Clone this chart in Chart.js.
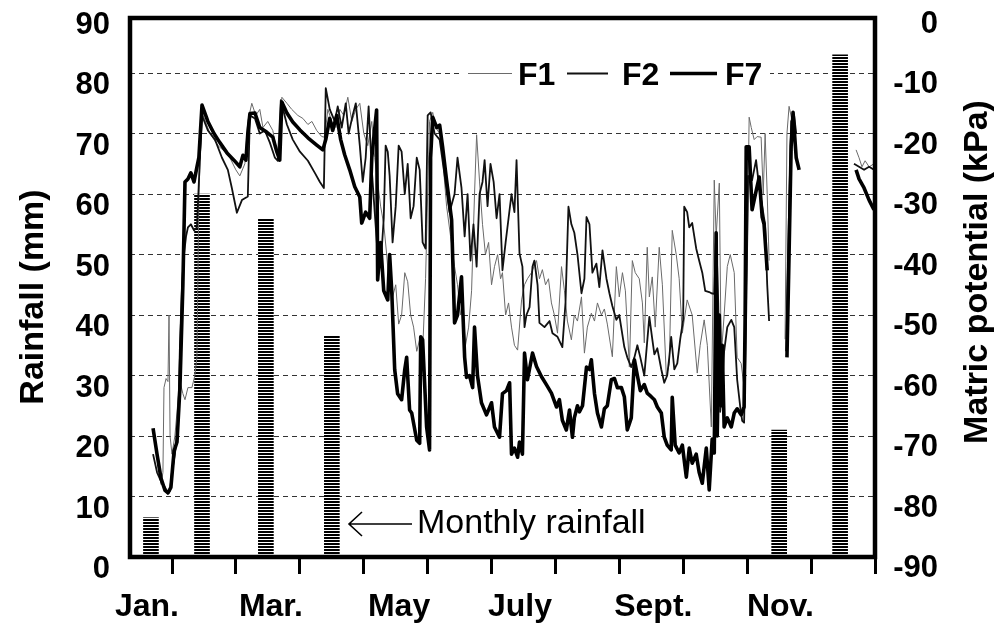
<!DOCTYPE html>
<html>
<head>
<meta charset="utf-8">
<title>Rainfall and soil matric potential</title>
<script src="https://cdn.jsdelivr.net/npm/chart.js@4.4.1/dist/chart.umd.min.js"></script>
<style>
  html, body { margin: 0; padding: 0; background: #fff; }
  canvas { display: block; }
</style>
</head>
<body>
<canvas id="chart" width="995" height="627"></canvas>
<script>
const FONT = "'Liberation Sans', Arial, Helvetica, sans-serif";

// Monthly rainfall (mm), left axis; x = day of year at the bar centre
const rainDays = [20.4, 44.7, 75.1, 106.5, 319.4, 348.4];
const rainfall = [6.5, 60, 56, 36.5, 21, 83];

// Soil matric potential (kPa), right axis; x = day of year, null = no readings
const f1Days = [
  22.3, 23.8, 25.2, 26.1, 26.6, 27.6, 28.5, 29.0, 29.5, 30.4,
  31.8, 33.3, 34.2, 35.6, 36.6, 38.0, 39.9, 41.3, 42.3, 43.2,
  44.7, 48.5, 52.3, 55.6, 58.0, 60.8, 62.7, 65.1, 66.5, 68.4,
  70.3, 72.2, 73.7, 76.0, 78.4, 80.3, 81.7, 82.7, 85.1, 87.4,
  90.3, 92.7, 95.1, 97.0, 99.3, 101.7, 103.1, 104.6, 106.5, 108.4,
  110.3, 112.2, 114.1, 116.0, 117.9, 119.8, 121.7, 123.6, 125.5, 126.9,
  128.3, 129.7, 131.2, 132.6, 134.0, 135.4, 136.9, 138.3, 139.7, 141.2,
  142.6, 144.0, 145.4, 146.9, 148.3, 149.7, 151.1, 152.1, 153.0, 154.5,
  155.9, 157.8, 159.2, 161.1, 163.0, 164.9, 166.3, 167.8, 168.7, 170.1,
  171.6, 173.0, 174.4, 175.4, 176.8, 178.2, 179.6, 181.1, 182.5, 183.9,
  185.4, 186.8, 187.7, 189.2, 190.6, 192.0, 193.4, 194.9, 196.8, 198.2,
  199.6, 201.5, 203.9, 205.3, 206.7, 208.2, 209.6, 211.0, 212.4, 213.9,
  215.8, 217.2, 218.6, 220.5, 221.9, 223.4, 225.3, 226.7, 228.1, 230.0,
  231.5, 232.9, 234.8, 236.2, 237.6, 240.0, 241.9, 243.3, 244.8, 246.2,
  248.1, 249.5, 250.9, 252.8, 254.3, 255.2, 256.6, 257.6, 259.0, 260.4,
  262.3, 263.8, 265.7, 267.1, 268.5, 270.4, 271.8, 273.3, 275.6, 278.0,
  280.4, 281.8, 283.7, 285.2, 287.1, 288.5, 289.4, 290.9, 291.8, 293.2,
  294.7, 296.1, 298.0, 299.4, 301.3, 302.7, 304.2, 305.1, 306.1, 307.5,
  308.9, 310.8, 311.8, 312.7, 313.7, 314.6, 318.0, 322.2, 323.1, 324.1,
  325.6, 327.0, 340.0, 356.0, 357.4, 358.8, 360.3, 362.2, 364.5
];
const f1Kpa = [
  -70, -75, -78, -76, -62, -60.5, -61, -50, -70, -73,
  -70, -64, -61, -63, -64, -62, -62, -60, -57, -30,
  -16.5, -20, -22, -23, -24, -26, -27, -25, -18, -15,
  -17, -16, -19, -18, -19.5, -23, -24, -14, -15, -16,
  -17, -17.5, -18.5, -18, -19.5, -20.5, -20.6, -16, -18, -19,
  -16, -17, -14, -18, -16, -15, -20, -22, -18, -24,
  -28, -32, -35, -40, -46, -47, -45, -51.5, -50, -43,
  -44.5, -50, -52, -56, -54, -56, -44, -30, -18, -16.5,
  -19, -20, -24, -32, -37, -42, -45, -50, -48, -55,
  -52, -46, -30, -20.2, -28, -35, -40, -38, -45, -42,
  -40, -44, -43, -50, -48, -52, -55, -55.8, -47.5, -45,
  -44, -43, -41, -44, -42.5, -45, -44, -48, -50, -53,
  -42, -46, -51, -54.1, -50, -51, -47, -56.3, -52, -49.7,
  -51, -48, -50, -49, -51.5, -56.9, -42, -47, -43, -46,
  -58.6, -41, -43, -44, -48, -54.6, -38.8, -47, -43.7, -52,
  -38.8, -45, -60.2, -58, -36, -40, -44, -53, -47.5, -50,
  -59.6, -55, -50.8, -55, -68.5, -27.7, -37, -28.2, -57, -50,
  -42, -40, -43, -57, -58, -62, -40, -17.3, -19, -21,
  -20.5, -20.6, -30, -20, -30, -41, null, -54, -20, -15.5,
  -18, -20, null, -22.7, -24, -25.5, -24.5, -25.5, -25
];

const f2Days = [
  21.4, 23.3, 25.2, 27.1, 28.5, 29.5, 30.4, 31.8, 33.3, 34.2,
  35.2, 36.1, 37.1, 38.0, 39.4, 40.9, 42.3, 43.7, 44.7, 47.5,
  50.9, 54.2, 57.0, 58.9, 61.3, 63.7, 66.5, 67.5, 69.9, 72.2,
  74.6, 77.0, 79.4, 80.8, 82.2, 85.1, 87.9, 91.3, 95.1, 98.4,
  100.8, 102.7, 103.6, 105.5, 107.9, 109.3, 111.2, 113.1, 114.5, 116.4,
  117.9, 119.8, 121.2, 122.6, 124.0, 125.5, 126.9, 128.3, 129.7, 131.2,
  132.1, 133.1, 134.0, 135.4, 136.9, 138.3, 139.7, 141.2, 142.6, 144.0,
  145.4, 146.9, 148.3, 149.7, 151.1, 152.1, 153.5, 155.4, 157.8, 160.2,
  162.5, 164.9, 166.3, 168.2, 169.7, 171.1, 172.5, 173.9, 175.4, 176.8,
  178.2, 179.2, 180.6, 182.0, 183.5, 184.9, 186.3, 187.7, 189.2, 190.6,
  192.0, 193.4, 194.4, 195.8, 197.2, 198.2, 199.1, 200.6, 202.0, 202.9,
  204.4, 205.3, 207.7, 210.1, 211.5, 213.9, 216.2, 217.7, 219.1, 220.5,
  221.9, 223.4, 225.3, 226.7, 227.7, 229.1, 230.5, 232.4, 233.8, 235.3,
  237.2, 238.6, 240.0, 241.9, 243.3, 245.7, 247.1, 249.0, 250.5, 251.9,
  253.3, 255.2, 257.6, 259.0, 260.0, 261.4, 263.3, 264.7, 266.1, 267.1,
  268.0, 269.5, 270.9, 272.3, 273.7, 274.2, 275.6, 276.6, 278.0, 279.9,
  281.3, 282.8, 284.2, 286.1, 287.1, 288.5, 289.4, 290.4, 291.3, 292.3,
  293.2, 294.7, 296.6, 298.0, 299.4, 300.8, 301.8, 302.7, 303.7, 304.6,
  306.5, 308.4, 309.9, 311.3, 312.7, 313.7, 314.6, 318.0, 322.7, 323.6,
  325.1, 326.5, 327.5, 340.0, 355.0, 357.4, 359.8, 362.2, 364.5
];
const f2Kpa = [
  -73, -76, -77.5, -78.5, -79.5, -79, -76, -73, -68, -55,
  -45, -40, -37, -35.5, -35, -36, -35.5, -24, -17, -19.5,
  -21, -24, -26, -29, -33.1, -31, -30.4, -17, -17.5, -20,
  -19.5, -21.5, -24, -24.5, -14.5, -18.5, -21, -23, -24.5, -26.5,
  -28, -29, -12.5, -16, -18, -15.5, -19, -15, -20, -17,
  -15, -22, -28, -24, -15.5, -26, -33, -40, -42, -34,
  -22, -23, -27, -38, -32, -22, -23, -30, -25, -34,
  -32, -24, -26, -38, -39, -17, -16.5, -20, -21, -27,
  -33, -30, -24, -29, -37, -30, -41, -35, -42, -30,
  -28, -24.4, -32, -25, -28, -34, -30, -42.6, -38, -34,
  -30, -33, -24.4, -39.8, -42, -52, -50, -48.7, -42, -41,
  -45, -51.3, -52, -51, -53, -53.6, -55.3, -48, -32.1, -35,
  -36.4, -40, -46.4, -44, -33.8, -35, -43, -41.5, -45.4, -39.3,
  -44, -46.4, -48.5, -50.8, -50, -55.3, -57, -58.6, -57, -55,
  -57, -60, -50.3, -54, -56.5, -55.5, -59, -61.2, -60, -57,
  -53.6, -59, -58, -54, -50.8, -32.1, -33, -35.5, -34.8, -39,
  -41, -43, -46, -46.2, -46.4, -46.5, -36.4, -48, -66, -62,
  -56, -52, -50.8, -52, -60.7, -65, -67.5, -67.8, -50, -27,
  -27.7, -24.4, -29, -32, -35, -45, -51, null, -56, -40,
  -18, -17, -20, null, -25, -25.5, -26, -25.5, -26
];

const f7Days = [
  21.4, 23.3, 25.2, 27.1, 28.5, 29.9, 31.4, 32.8, 34.2, 35.6,
  36.6, 38.0, 39.4, 40.9, 42.3, 43.2, 44.7, 47.5, 50.4, 53.2,
  56.6, 59.9, 62.7, 64.2, 65.6, 66.5, 67.5, 69.9, 72.2, 75.6,
  78.4, 80.3, 81.7, 82.7, 85.1, 87.9, 91.3, 95.1, 99.3, 102.2,
  103.6, 105.5, 106.9, 108.8, 110.7, 112.6, 115.0, 117.4, 119.8, 120.7,
  122.6, 124.5, 125.5, 127.8, 128.3, 129.7, 131.2, 133.1, 134.0, 135.0,
  136.4, 137.8, 139.7, 141.2, 142.1, 143.5, 144.5, 146.9, 148.3, 148.8,
  149.7, 151.6, 153.0, 153.5, 154.5, 156.4, 157.8, 159.2, 161.1, 163.5,
  164.9, 166.3, 168.2, 169.7, 170.6, 172.0, 173.5, 174.4, 175.8, 177.7,
  180.1, 182.5, 183.9, 186.3, 187.7, 189.6, 191.1, 192.0, 193.4, 194.9,
  195.8, 197.2, 198.2, 199.6, 202.0, 203.9, 206.3, 208.6, 211.0, 213.4,
  214.8, 216.2, 218.1, 219.6, 221.0, 221.9, 223.4, 224.3, 225.8, 227.7,
  229.1, 230.0, 231.5, 232.9, 234.8, 236.2, 237.6, 239.5, 241.0, 242.4,
  244.3, 245.7, 247.1, 249.0, 250.5, 251.9, 253.3, 255.2, 256.6, 258.5,
  260.0, 261.4, 263.3, 264.7, 266.1, 268.0, 268.5, 269.9, 271.8, 273.3,
  275.2, 276.6, 278.0, 279.9, 281.3, 282.8, 284.7, 286.1, 287.5, 288.5,
  289.4, 289.9, 290.9, 291.8, 292.3, 293.2, 294.7, 296.6, 298.0, 299.4,
  301.3, 302.7, 303.2, 303.7, 305.1, 306.5, 308.4, 309.9, 311.3, 312.2,
  313.7, 318.0, 323.1, 324.1, 325.1, 326.0, 327.5, 328.9, 340.0, 356.0,
  357.4, 359.8, 362.2, 364.5
];
const f7Kpa = [
  -68.7, -73, -77, -79, -79.4, -78.5, -72.5, -71, -62, -45,
  -28, -27.5, -26.5, -28, -25.5, -24, -15.3, -18, -20, -21.5,
  -23.2, -24.4, -25.5, -23.6, -24.4, -20, -16.7, -16.6, -19, -19.8,
  -20.6, -23, -24.4, -14.8, -16.6, -18.1, -19.4, -20.7, -21.9, -22.7,
  -21, -17.5, -19.5, -17, -21, -23.5, -26, -28.8, -30.5, -34.8,
  -33, -34, -24, -16.1, -44.2, -38, -46, -47.5, -40, -46,
  -59, -63, -64, -59, -57, -65.7, -66.2, -70.7, -71.2, -53.6,
  -54.1, -68.5, -72.3, -24, -17.3, -19, -18.6, -22.2, -27.7, -34.3,
  -51.3, -50, -43.7, -57, -60.3, -60, -62, -52, -60, -64.5,
  -66.5, -64.5, -68.5, -70.2, -63, -62.5, -61.2, -73, -72, -73.5,
  -71, -73, -56.3, -60.7, -56.3, -58.5, -60.2, -61.5, -62.9, -65.2,
  -64, -67.4, -69, -65.7, -70.2, -67, -65, -66, -65, -58.6,
  -59, -57.4, -63, -66.2, -68.5, -65.5, -65, -60.7, -60.5, -62,
  -62, -63.5, -69, -67, -57.4, -60, -62.5, -61.5, -62.9, -63.5,
  -64, -65.2, -66.2, -70.2, -71.5, -72.3, -63.6, -71.5, -72.8, -71.5,
  -76.8, -72, -74.5, -73, -76, -77.8, -72, -78.9, -70.5, -72.8,
  -36.4, -70, -50, -65, -55, -68.5, -67, -68.5, -66.2, -65.5,
  -66.5, -65.2, -50, -22.2, -22.2, -32.6, -29.5, -27.2, -33.8, -35,
  -42.6, null, -57, -40, -22, -16.5, -24, -26, null, -26,
  -27.5, -29, -31, -32.6
];

// Axis ticks
const rainTicks = [0, 10, 20, 30, 40, 50, 60, 70, 80, 90];
const potentialTicks = [-90, -80, -70, -60, -50, -40, -30, -20, -10, 0];
const monthStarts = [30.42, 60.83, 91.25, 121.67, 152.08, 182.5, 212.92, 243.33, 273.75, 304.17, 334.58, 365];
const monthNames = ['Jan.', 'Mar.', 'May', 'July', 'Sept.', 'Nov.'];
const monthNameDays = [18.5, 77.5, 138.5, 196, 259.5, 320];

const toPoints = (days, values) => days.map((d, i) => ({ x: d, y: values[i] }));

// Horizontal hatching used for the rainfall bars
function hatchPattern(ctx) {
  const tile = document.createElement('canvas');
  tile.width = 4; tile.height = 3;
  const t = tile.getContext('2d');
  t.fillStyle = '#fff'; t.fillRect(0, 0, 4, 3);
  t.fillStyle = '#000'; t.fillRect(0, 0, 4, 2);
  return ctx.createPattern(tile, 'repeat');
}

// Keep the plot area exactly where the layout puts it (no extra room for edge labels)
function noEdgePadding(s) {
  s.paddingTop = 0; s.paddingBottom = 0; s.paddingLeft = 0; s.paddingRight = 0;
}

// Frame, in-plot legend, axis titles and the rainfall note
const decorations = {
  id: 'decorations',
  afterDraw(chart) {
    const { ctx, chartArea: a } = chart;
    ctx.save();

    // legend strip across the top of the plot
    ctx.fillStyle = '#fff';
    ctx.fillRect(462, 58, 308, 32);
    const slots = [[468, 512, 518], [567, 608, 622], [670, 717, 725]];
    const series = chart.data.datasets.filter(d => d.type === 'line');
    ctx.font = 'bold 32px ' + FONT;
    ctx.textBaseline = 'alphabetic';
    ctx.textAlign = 'left';
    series.forEach((ds, i) => {
      const [x0, x1, tx] = slots[i];
      ctx.strokeStyle = ds.borderColor;
      ctx.lineWidth = ds.borderWidth;
      ctx.beginPath(); ctx.moveTo(x0, 73.5); ctx.lineTo(x1, 73.5); ctx.stroke();
      ctx.fillStyle = '#000';
      ctx.fillText(ds.label, tx, 85);
    });

    // note pointing at the rainfall bars
    ctx.strokeStyle = '#000';
    ctx.lineWidth = 1.6;
    ctx.beginPath();
    ctx.moveTo(412, 524); ctx.lineTo(349, 524);
    ctx.moveTo(362, 512); ctx.lineTo(349, 524); ctx.lineTo(362, 536);
    ctx.stroke();
    ctx.fillStyle = '#000';
    ctx.font = '34px ' + FONT;
    ctx.fillText('Monthly rainfall', 417, 533);

    // axis titles
    ctx.font = 'bold 34px ' + FONT;
    ctx.textAlign = 'center';
    ctx.save();
    ctx.translate(43, 297); ctx.rotate(-Math.PI / 2);
    ctx.fillText('Rainfall (mm)', 0, 0);
    ctx.restore();
    ctx.save();
    ctx.translate(987, 272); ctx.rotate(-Math.PI / 2);
    ctx.fillText('Matric potential (kPa)', 0, 0);
    ctx.restore();

    // plot frame
    ctx.strokeStyle = '#000';
    ctx.lineWidth = 4.5;
    ctx.strokeRect(a.left, a.top, a.right - a.left, a.bottom - a.top);
    ctx.restore();
  }
};

const canvas = document.getElementById('chart');
const c2d = canvas.getContext('2d');
const tickFont = { family: FONT, size: 31, weight: 'bold' };

new Chart(c2d, {
  type: 'line',
  data: {
    datasets: [
      {
        type: 'bar', label: 'Monthly rainfall',
        data: toPoints(rainDays, rainfall),
        backgroundColor: hatchPattern(c2d), borderWidth: 0,
        barThickness: 15, yAxisID: 'y', order: 4
      },
      {
        type: 'line', label: 'F1', data: toPoints(f1Days, f1Kpa),
        borderColor: '#6a6a6a', borderWidth: 1, pointRadius: 0,
        borderJoinStyle: 'round', spanGaps: false, yAxisID: 'y2', order: 3
      },
      {
        type: 'line', label: 'F2', data: toPoints(f2Days, f2Kpa),
        borderColor: '#111', borderWidth: 1.8, pointRadius: 0,
        borderJoinStyle: 'round', spanGaps: false, yAxisID: 'y2', order: 2
      },
      {
        type: 'line', label: 'F7', data: toPoints(f7Days, f7Kpa),
        borderColor: '#000', borderWidth: 3.6, pointRadius: 0,
        borderJoinStyle: 'round', spanGaps: false, yAxisID: 'y2', order: 1
      }
    ]
  },
  options: {
    responsive: false,
    animation: false,
    events: [],
    layout: { padding: { top: 18, left: 0, right: 57, bottom: 0 } },
    plugins: { legend: { display: false }, tooltip: { enabled: false } },
    scales: {
      x: {
        type: 'linear', position: 'bottom', min: 10.43, max: 365, offset: false,
        afterBuildTicks: s => {
          s.ticks = monthStarts.concat(monthNameDays).sort((p, q) => p - q).map(v => ({ value: v }));
        },
        afterFit: s => { s.height = 70; noEdgePadding(s); },
        grid: {
          offset: false, drawOnChartArea: false, drawTicks: true, tickLength: 17, tickWidth: 3,
          tickColor: c => (c.tick && monthStarts.includes(c.tick.value)) ? '#000' : 'rgba(0,0,0,0)'
        },
        border: { display: false },
        ticks: {
          autoSkip: false, maxRotation: 0, minRotation: 0, padding: 14, color: '#000',
          font: { family: FONT, size: 32, weight: 'bold' },
          callback: v => { const i = monthNameDays.indexOf(v); return i >= 0 ? monthNames[i] : ''; }
        }
      },
      y: {
        position: 'left', min: 0, max: 89.1,
        afterBuildTicks: s => { s.ticks = rainTicks.map(v => ({ value: v })); },
        afterFit: s => { s.width = 130; noEdgePadding(s); },
        grid: {
          color: c => (c.tick && c.tick.value > 0 && c.tick.value < 90) ? '#333' : 'rgba(0,0,0,0)',
          lineWidth: 1, drawTicks: false, borderDash: [5, 4]
        },
        border: { display: false, dash: [5, 4] },
        ticks: { autoSkip: false, padding: 20, labelOffset: 12.5, color: '#000', font: tickFont }
      },
      y2: {
        position: 'right', min: -90, max: -0.9,
        afterBuildTicks: s => { s.ticks = potentialTicks.map(v => ({ value: v })); },
        afterFit: s => { s.width = 63; noEdgePadding(s); },
        grid: { display: false, drawOnChartArea: false, drawTicks: false },
        border: { display: false },
        ticks: { autoSkip: false, crossAlign: 'far', padding: 18, labelOffset: 11.5, color: '#000', font: tickFont }
      }
    }
  },
  plugins: [decorations]
});
</script>
</body>
</html>
